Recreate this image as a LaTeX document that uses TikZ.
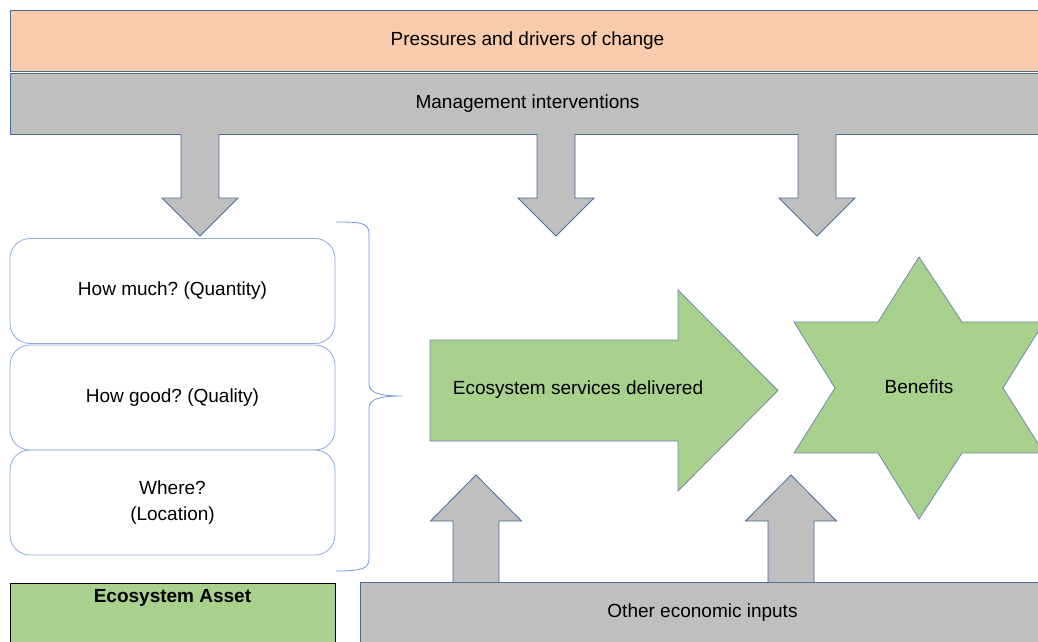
\documentclass[tikz,border=0pt]{standalone}
\usepackage{fontspec}
\setmainfont{Liberation Sans}
\usepackage{tikz}
\usetikzlibrary{positioning,calc}
\frenchspacing
\definecolor{pressorange}{HTML}{F8CBAD}
\definecolor{mgmtgray}{HTML}{BFBFBF}
\definecolor{assetgreen}{HTML}{A9D18E}
\definecolor{edgeblue}{HTML}{4A6B96}
\definecolor{boxblue}{HTML}{8FAADC}
\definecolor{braceblue}{HTML}{7097D8}
\tikzstyle{bar}=[draw=edgeblue, line width=0.8pt, minimum width=1035pt, minimum height=61pt, inner sep=0pt]
\tikzstyle{question}=[draw=boxblue, line width=0.8pt, rounded corners=20pt, fill=white, minimum width=325pt, minimum height=105pt, align=center]
\tikzstyle{blockarrow}=[draw=edgeblue, fill=mgmtgray, line width=0.8pt, line join=miter]
\tikzstyle{greenshape}=[draw=edgeblue!80, fill=assetgreen, line width=0.8pt, line join=miter]

\begin{document}
\begin{tikzpicture}[x=1pt, y=-1pt, font=\fontsize{19}{26}\selectfont]
	\useasboundingbox (0,0) rectangle (1038,642);
	\clip (0,0) rectangle (1038,642);

	\node[bar, fill=pressorange] (press) at (527.5,40.5) {Pressures and drivers of change};
	\node[bar, fill=mgmtgray] (mgmt) at (527.5,103.5) {Management interventions};

	\foreach \x in {200,556,817}
		{
			\draw[blockarrow] (\x-19,134) -- (\x-19,198) -- (\x-38,198) -- (\x,236) -- (\x+38,198) -- (\x+19,198) -- (\x+19,134);
		}

	\node[question] (quantity) at (172.5,291) {How much? (Quantity)};
	\node[question] (quality) at (172.5,397.5) {How good? (Quality)};
	\node[question] (location) at (172.5,502.5) {Where?\\(Location)};

	% brace
	\draw[braceblue, line width=0.8pt] (336,222) .. controls (362,222) and (369,223) .. (369,234) -- (369,384)
		.. controls (369,393) and (380,396) .. (402,396) .. controls (380,396) and (369,399) .. (369,408) -- (369,558)
		.. controls (369,569) and (362,571) .. (336,571);

	\draw[greenshape] (430,340) -- (678,340) -- (678,290) -- (778,390.5) -- (678,491) -- (678,441) -- (430,441) -- cycle;
	\node (services) at (578,390) {Ecosystem services delivered};

	\draw[greenshape] (919,257) -- (962,322) -- (1044,322) -- (1003,388) -- (1044,453) -- (962,453) -- (919,519) -- (878,453) -- (794,453) -- (835,388) -- (794,322) -- (878,322) -- cycle;
	\node (benefits) at (919,387) {Benefits};

	\node[draw=black, line width=0.8pt, fill=assetgreen, minimum width=325pt, minimum height=62pt, inner sep=0pt,
		label={[anchor=north, font=\fontsize{19}{26}\selectfont\bfseries, yshift=-3pt]north:Ecosystem Asset}] (asset) at (172.5,614) {};
	\node[draw=edgeblue, line width=0.8pt, fill=mgmtgray, minimum width=685pt, minimum height=62pt, inner sep=0pt] (inputs) at (702.5,613) {Other economic inputs};

	\foreach \x in {476,791}
		{
			\draw[blockarrow] (\x-23,582) -- (\x-23,521) -- (\x-45.5,521) -- (\x,475) -- (\x+45.5,521) -- (\x+23,521) -- (\x+23,582);
		}
\end{tikzpicture}
\end{document}
